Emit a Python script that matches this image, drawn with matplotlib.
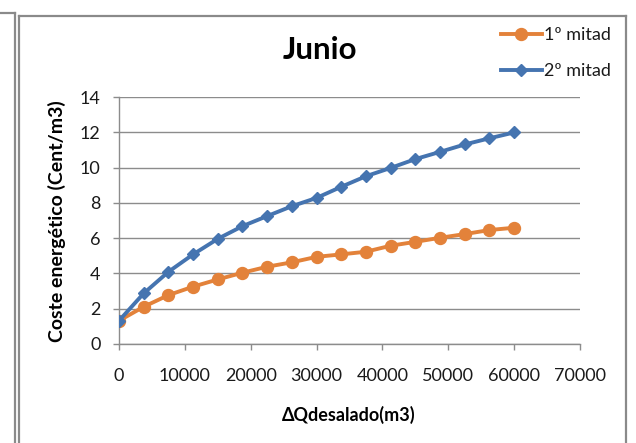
import matplotlib
matplotlib.use("Agg")
import matplotlib.pyplot as plt
from matplotlib.lines import Line2D

plt.rcParams['font.family'] = ['Lato', 'DejaVu Sans']

# Data
x_values = [0, 3750, 7500, 11250, 15000, 18750, 22500, 26250, 30000,
            33750, 37500, 41250, 45000, 48750, 52500, 56250, 60000]
primera_mitad = [1.32, 2.11, 2.77, 3.25, 3.66, 4.04, 4.38, 4.63, 4.94,
                 5.08, 5.23, 5.57, 5.79, 6.02, 6.23, 6.46, 6.59]
segunda_mitad = [1.32, 2.87, 4.09, 5.08, 5.96, 6.68, 7.25, 7.81, 8.28,
                 8.91, 9.51, 9.98, 10.48, 10.89, 11.31, 11.66, 11.99]
series_labels = ["1º mitad", "2º mitad"]
x_ticks = [0, 10000, 20000, 30000, 40000, 50000, 60000, 70000]
y_ticks = [0, 2, 4, 6, 8, 10, 12, 14]
title = "Junio"
xlabel = "ΔQdesalado(m3)"
ylabel = "Coste energético (Cent/m3)"

W, H = 636, 443
fig = plt.figure(figsize=(W / 100, H / 100), dpi=100)
fig.patch.set_facecolor('white')

# axes box in pixels: x 119..580, y 97..344
ax = fig.add_axes([119 / W, (H - 344) / H, 461 / W, 247 / H])

grid_c = '#8C8C8C'
orange = '#E3823A'
blue = '#4574B0'

ax.plot(x_values, primera_mitad, color=orange, lw=2.8, marker='o',
        markersize=8.6, markeredgecolor=orange, markerfacecolor=orange,
        label=series_labels[0], zorder=3)
ax.plot(x_values, segunda_mitad, color=blue, lw=2.8, marker='D',
        markersize=6.3, markeredgecolor=blue, markerfacecolor=blue,
        label=series_labels[1], zorder=4)

ax.set_xlim(x_ticks[0], x_ticks[-1])
ax.set_ylim(y_ticks[0], y_ticks[-1])
ax.set_xticks(x_ticks)
ax.set_yticks(y_ticks)
ax.set_xticklabels([str(v) for v in x_ticks])
ax.set_yticklabels([str(v) for v in y_ticks])

ax.yaxis.grid(True, color=grid_c, lw=1.0)
ax.set_axisbelow(True)
for s in ['top', 'right']:
    ax.spines[s].set_visible(False)
for s in ['left', 'bottom']:
    ax.spines[s].set_color(grid_c)
    ax.spines[s].set_linewidth(1.0)
ax.tick_params(axis='both', direction='out', length=4.3, width=1.0,
               color=grid_c, labelsize=13, labelcolor='#1a1a1a')
ax.tick_params(axis='y', pad=9)
ax.tick_params(axis='x', pad=13)

ax.set_title(title, fontsize=22.5, fontweight='bold', x=(320 - 119) / 461,
             y=(344 - 58) / 247, va='center', color='black')
ax.set_xlabel(xlabel, fontsize=13, fontweight='bold', va='center')
ax.xaxis.set_label_coords((349 - 119) / 461, (344 - 415) / 247)
ax.set_ylabel(ylabel, fontsize=14, fontweight='bold', va='center')
ax.yaxis.set_label_coords((57 - 119) / 461, (344 - 221) / 247)

leg = fig.legend(loc='upper left', bbox_to_anchor=(500.7 / W, 1 - 27 / H),
                 frameon=False, fontsize=13, handlelength=2.3,
                 handletextpad=0.1, labelspacing=1.1, borderpad=0,
                 borderaxespad=0)
for t in leg.get_texts():
    t.set_color('#1a1a1a')

# Frames (chart area border and neighbouring border)
frame_c = '#8A8A8A'
def fl(xs, ys, lw=1.6):
    fig.add_artist(Line2D([v / W for v in xs], [1 - v / H for v in ys],
                          color=frame_c, lw=lw, transform=fig.transFigure))
fl([0, 15], [12.5, 12.5])
fl([15, 15], [12.5, H + 2])
fl([19, 626], [15.5, 15.5])
fl([19, 19], [15.5, H + 2])
fl([626, 626], [15.5, H + 2])

fig.savefig('out.png', dpi=100)
